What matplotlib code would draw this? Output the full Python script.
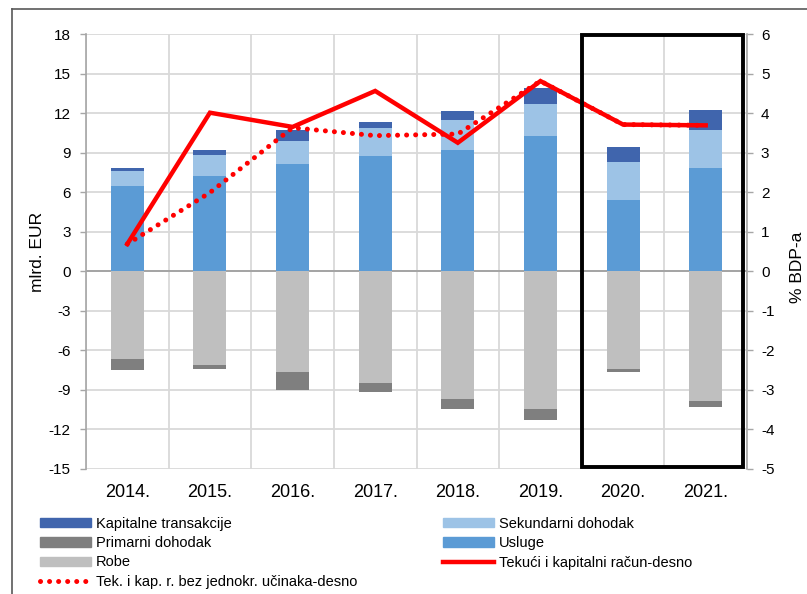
import matplotlib
matplotlib.use("Agg")
import matplotlib.pyplot as plt
import numpy as np
from matplotlib.patches import Patch, Rectangle
from matplotlib.lines import Line2D

plt.rcParams['font.family'] = ['Liberation Sans', 'DejaVu Sans']

years = ['2014.', '2015.', '2016.', '2017.', '2018.', '2019.', '2020.', '2021.']
usluge = [6.45, 7.23, 8.14, 8.75, 9.18, 10.27, 5.39, 7.84]
sekundarni = [1.16, 1.60, 1.75, 2.10, 2.28, 2.45, 2.88, 2.91]
kapitalne = [0.20, 0.35, 0.81, 0.51, 0.70, 1.19, 1.16, 1.49]
robe = [-6.68, -7.13, -7.64, -8.47, -9.66, -10.47, -7.41, -9.86]
primarni = [-0.83, -0.28, -1.37, -0.69, -0.81, -0.83, -0.23, -0.44]
tekuci = [0.69, 4.01, 3.65, 4.56, 3.25, 4.81, 3.71, 3.69]
bez_jednokr = [0.69, 1.99, 3.63, 3.43, 3.47, 4.81, 3.71, 3.69]

left_ticks = [18, 15, 12, 9, 6, 3, 0, -3, -6, -9, -12, -15]
right_ticks = [6, 5, 4, 3, 2, 1, 0, -1, -2, -3, -4, -5]

c_kap = '#4065ad'
c_sek = '#9dc3e6'
c_usl = '#5b9bd5'
c_prim = '#7f7f7f'
c_robe = '#bfbfbf'
c_red = '#ff0000'
grid_c = '#d9d9d9'
spine_c = '#a6a6a6'

W, H = 807, 594
fig = plt.figure(figsize=(W/100, H/100), dpi=100)
ax = fig.add_axes([86/W, 1-469/H, (747-86)/W, (469-34)/H])
ax2 = ax.twinx()

x = np.arange(len(years))
bw = 0.4
usl = np.array(usluge); sek = np.array(sekundarni); kap = np.array(kapitalne)
rob = np.array(robe); pri = np.array(primarni)
ax.bar(x, usl, bw, color=c_usl, zorder=3)
ax.bar(x, sek, bw, bottom=usl, color=c_sek, zorder=3)
ax.bar(x, kap, bw, bottom=usl+sek, color=c_kap, zorder=3)
ax.bar(x, rob, bw, color=c_robe, zorder=3)
ax.bar(x, pri, bw, bottom=rob, color=c_prim, zorder=3)

ax.set_xlim(-0.5, len(years)-0.5)
ax.set_ylim(-15, 18)
ax.set_yticks(left_ticks)
ax.set_yticklabels([str(t) for t in left_ticks])
ax.set_xticks(x)
ax.set_xticklabels(years)
ax.set_xticks(np.arange(len(years)+1)-0.5, minor=True)
ax.tick_params(axis='x', which='major', length=0, labelsize=13, pad=11)
ax.tick_params(axis='x', which='minor', length=0)
ax.tick_params(axis='y', length=4, width=1, color=spine_c, labelsize=11, pad=7)
ax.grid(True, axis='y', color=grid_c, lw=1.3, zorder=0)
ax.grid(True, axis='x', which='minor', color=grid_c, lw=1.3, zorder=0)
ax.axhline(0, color='#a0a0a0', lw=1.3, zorder=2)
for s in ['top', 'right', 'bottom']:
    ax.spines[s].set_visible(False)
ax.spines['left'].set_color(spine_c)
ax.spines['left'].set_linewidth(1.2)

ax2.set_ylim(-5, 6)
ax2.set_yticks(right_ticks)
ax2.set_yticklabels([str(t) for t in right_ticks])
ax2.tick_params(axis='y', length=4, width=1, color=spine_c, labelsize=11, pad=6)
for s in ['top', 'left', 'bottom']:
    ax2.spines[s].set_visible(False)
ax2.spines['right'].set_color(spine_c)
ax2.spines['right'].set_linewidth(1.2)

ax2.plot(x, tekuci, color=c_red, lw=3.2, solid_joinstyle='miter', zorder=4)
ax2.plot(x, bez_jednokr, color=c_red, lw=3.6, linestyle=(0, (0.01, 1.8)),
         dash_capstyle='round', zorder=5)

rect = Rectangle((5.504, -4.95), 1.943, 10.92, fill=False, edgecolor='black',
                 lw=2.8, transform=ax2.transData, clip_on=False, zorder=6)
ax2.add_patch(rect)

fig.text(37/W, 1-252/H, 'mlrd. EUR', rotation=90, ha='center', va='center', fontsize=12.5)
fig.text(797/W, 1-267/H, '% BDP-a', rotation=90, ha='center', va='center', fontsize=12.5)

# outer frame
fig.add_artist(Line2D([12/W, 12/W], [0, 1-9/H], transform=fig.transFigure, color='#595959', lw=1.2))
fig.add_artist(Line2D([12/W, 1], [1-9/H, 1-9/H], transform=fig.transFigure, color='#595959', lw=1.2))

h1 = [Patch(color=c_kap), Patch(color=c_prim), Patch(color=c_robe),
      Line2D([], [], color=c_red, lw=3.6, linestyle=(0, (0.01, 1.8)), dash_capstyle='round')]
l1 = ['Kapitalne transakcije', 'Primarni dohodak', 'Robe', 'Tek. i kap. r. bez jednokr. učinaka-desno']
h2 = [Patch(color=c_sek), Patch(color=c_usl), Line2D([], [], color=c_red, lw=3.2)]
l2 = ['Sekundarni dohodak', 'Usluge', 'Tekući i kapitalni račun-desno']

kw = dict(frameon=False, fontsize=10.5, handlelength=3.5, handleheight=0.6,
          handletextpad=0.35, labelspacing=0.36, borderpad=0, borderaxespad=0,
          loc='upper left')
leg1 = fig.legend(h1, l1, bbox_to_anchor=(40/W, 1-517/H), **kw)
leg2 = fig.legend(h2, l2, bbox_to_anchor=(443/W, 1-517/H), **kw)

fig.savefig('out.png', dpi=100)
